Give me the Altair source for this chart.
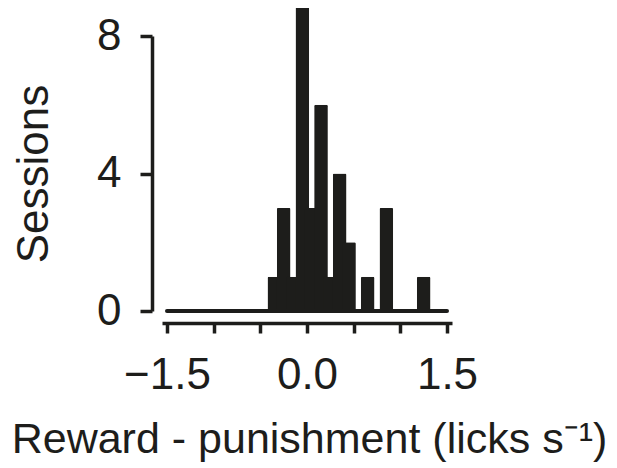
import altair as alt
import pandas as pd

# Histogram of reward - punishment lick-rate differences
bin_centers = [-0.35, -0.25, -0.15, -0.05, 0.05, 0.15, 0.25, 0.35, 0.45, 0.65, 0.85, 1.25]
sessions = [1, 3, 1, 9, 3, 6, 1, 4, 2, 1, 3, 1]
x_ticks = [-1.5, -1.0, -0.5, 0.0, 0.5, 1.0, 1.5]
x_labels_shown = [-1.5, 0.0, 1.5]
y_ticks = [0, 4, 8]
x_range = [-1.5, 1.5]
y_range = [0, 8]

bars_df = pd.DataFrame({"center": bin_centers, "n": sessions})
base_df = pd.DataFrame({"x": [x_range[0]], "x2": [x_range[1]], "y": [0]})

FONT = "Liberation Sans"
INK = "#1d1d1b"

xscale = alt.Scale(domain=x_range, nice=False, zero=False)
yscale = alt.Scale(domain=y_range, nice=False)

label_test = " || ".join(f"datum.value == {v}" for v in x_labels_shown)

bars = alt.Chart(bars_df).mark_bar(
    size=13.7, color=INK, cornerRadiusTopLeft=1.5, cornerRadiusTopRight=1.5
).encode(
    x=alt.X(
        "center:Q",
        scale=xscale,
        axis=alt.Axis(
            values=x_ticks,
            format=".1f",
            labelExpr=f"({label_test}) ? datum.label : ''",
            title="Reward - punishment (licks s\u207b\u00b9)",
            titleFontSize=43,
            offset=12,
            tickSize=10,
            labelPadding=20,
            titlePadding=21,
            titleX=147,
            grid=False,
        ),
    ),
    y=alt.Y(
        "n:Q",
        scale=yscale,
        axis=alt.Axis(
            values=y_ticks,
            title="Sessions",
            offset=10,
            tickSize=12,
            labelPadding=19,
            titlePadding=40,
            grid=False,
        ),
    ),
)

baseline = alt.Chart(base_df).mark_rule(
    color=INK, strokeWidth=4, strokeCap="round"
).encode(
    x=alt.X("x:Q", scale=xscale),
    x2="x2:Q",
    y=alt.Y("y:Q", scale=yscale),
)

chart = alt.layer(bars, baseline).properties(
    width=290,
    height=275,
    autosize=alt.AutoSizeParams(type="none"),
    padding={"left": 154, "top": 28, "right": 157, "bottom": 152},
).configure_view(stroke=None).configure_axis(
    domainColor=INK,
    domainWidth=3.5,
    domainCap="butt",
    tickColor=INK,
    tickWidth=3.5,
    labelFont=FONT,
    labelFontSize=44,
    labelColor=INK,
    titleFont=FONT,
    titleFontSize=44,
    titleFontWeight="normal",
    titleColor=INK,
).configure_axisX(
    labelBaseline="top",
).configure_axisY(
    labelAlign="right",
    labelBaseline="middle",
)

chart.save("out.html", embed_options={"renderer": "svg", "actions": False})
